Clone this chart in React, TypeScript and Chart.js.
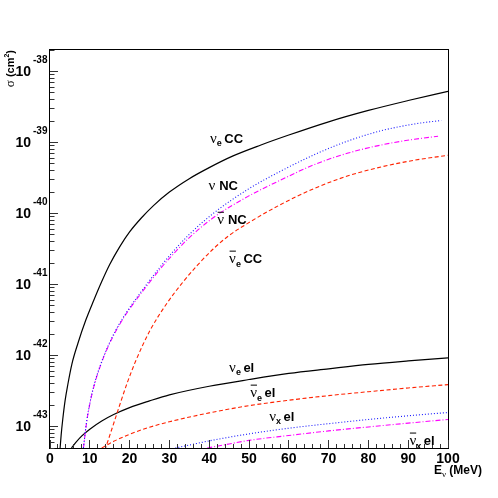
import React, { useEffect, useRef } from "react";
import { Chart, registerables } from "chart.js";

Chart.register(...registerables);

// ---------------- data ----------------
const X_MIN = 0;
const X_MAX = 100;
const Y_MIN = 5e-44;
const Y_MAX = 2e-38;

const X_TICK_LABELS = [0, 10, 20, 30, 40, 50, 60, 70, 80, 90, 100];
const Y_DECADES = [-38, -39, -40, -41, -42, -43];

// nu_e CC (black solid)
const E_NUE_CC = [2.5, 2.8, 3.2, 3.8, 4.5, 5.5, 7, 9, 11, 13, 15, 17.5, 20, 23, 26, 30, 35, 40, 46, 53, 60, 70, 80, 90, 100];
const SIG_NUE_CC = [4.68e-44, 7.6e-44, 1.26e-43, 2.34e-43, 3.98e-43, 7.6e-43, 1.48e-42, 3.16e-42, 6.0e-42, 1.1e-41, 1.91e-41, 3.39e-41, 5.5e-41, 8.7e-41, 1.29e-40, 2.0e-40, 3.09e-40, 4.42e-40, 6.46e-40, 9.2e-40, 1.27e-39, 1.95e-39, 2.82e-39, 3.89e-39, 5.25e-39];

// nu NC (blue dotted)
const E_NU_NC = [8.4, 9.2, 10.05, 11.0, 12.56, 14.5, 16.75, 19.3, 22, 25, 28, 31.5, 35, 41, 49.75, 58.1, 66.5, 74.9, 83.2, 91.6, 98.3];
const SIG_NU_NC = [5.0e-44, 1.175e-43, 2.19e-43, 3.72e-43, 7.08e-43, 1.33e-42, 2.4e-42, 4.12e-42, 6.76e-42, 1.135e-41, 1.86e-41, 3.16e-41, 5.07e-41, 1.0e-40, 2.19e-40, 3.98e-40, 6.76e-40, 1.05e-39, 1.46e-39, 1.82e-39, 2.04e-39];

// anti-nu NC (magenta dash-dot)
const E_NUBAR_NC = [8.4, 9.2, 10.05, 11.0, 12.56, 14.5, 16.75, 19.3, 22, 25, 28, 31.5, 35, 41, 49.75, 58.1, 66.5, 74.9, 83.2, 91.6, 97.5];
const SIG_NUBAR_NC = [5.0e-44, 1.15e-43, 2.14e-43, 3.63e-43, 6.9e-43, 1.3e-42, 2.32e-42, 3.98e-42, 6.46e-42, 1.07e-41, 1.74e-41, 2.88e-41, 4.57e-41, 8.7e-41, 1.74e-40, 2.98e-40, 4.9e-40, 7.08e-40, 9.2e-40, 1.11e-39, 1.22e-39];

// anti-nu_e CC (red dashed)
const E_NUEBAR_CC = [13.8, 15.5, 17.5, 19.3, 21.5, 25.1, 29.3, 33.5, 37, 41, 45, 50.25, 58.1, 66.5, 74.9, 83.2, 91.6, 100];
const SIG_NUEBAR_CC = [4.68e-44, 9.1e-44, 2.0e-43, 3.98e-43, 8.3e-43, 2.24e-42, 5.37e-42, 1.1e-41, 1.86e-41, 3.16e-41, 4.9e-41, 7.6e-41, 1.35e-40, 2.26e-40, 3.39e-40, 4.52e-40, 5.62e-40, 6.6e-40];

// nu_e elastic (black solid)
const E_NUE_EL = [5.4, 6.5, 8, 10, 13, 16, 20, 25, 30, 40, 50, 60, 70, 80, 90, 100];
const SIG_NUE_EL = [5.0e-44, 6.0e-44, 7.4e-44, 9.2e-44, 1.2e-43, 1.48e-43, 1.85e-43, 2.3e-43, 2.8e-43, 3.7e-43, 4.6e-43, 5.6e-43, 6.5e-43, 7.5e-43, 8.4e-43, 9.3e-43];

// anti-nu_e elastic (red dashed)
const E_NUEBAR_EL = [13.0, 16, 20, 25, 30, 40, 50, 60, 70, 80, 90, 100];
const SIG_NUEBAR_EL = [5.0e-44, 6.2e-44, 7.8e-44, 9.8e-44, 1.17e-43, 1.56e-43, 1.97e-43, 2.35e-43, 2.73e-43, 3.1e-43, 3.5e-43, 3.9e-43];

// nu_x elastic (blue dotted)
const E_NUX_EL = [31.5, 35, 40, 50, 60, 70, 80, 90, 100];
const SIG_NUX_EL = [5.0e-44, 5.5e-44, 6.3e-44, 7.9e-44, 9.5e-44, 1.1e-43, 1.26e-43, 1.42e-43, 1.58e-43];

// anti-nu_x elastic (magenta dash-dot)
const E_NUXBAR_EL = [39.5, 45, 50, 60, 70, 80, 90, 100];
const SIG_NUXBAR_EL = [5.0e-44, 5.7e-44, 6.4e-44, 7.5e-44, 8.7e-44, 9.9e-44, 1.12e-43, 1.26e-43];

// curve labels: anchor (left edge, baseline) in data units
const LABEL_E = [40.2, 39.8, 42.0, 45.0, 45.0, 50.3, 55.1, 90.3];
const LABEL_SIG = [9.9e-40, 2.17e-40, 7.05e-41, 2.0e-41, 5.9e-43, 2.6e-43, 1.2e-43, 5.5e-44];
const LABEL_BAR = [false, false, true, true, false, true, false, true];
const LABEL_SUB = ["e", "", "", "e", "e", "e", "x", "x"];
const LABEL_TEXT = ["CC", "NC", "NC", "CC", "el", "el", "el", "el"];

// ---------------- styling ----------------
const SANS = "'Liberation Sans', Arial, Helvetica, sans-serif";
const SERIF = "'Liberation Serif', 'Times New Roman', serif";
const BLACK = "#000000";
const BLUE = "#1a1aff";
const MAGENTA = "#ff00ff";
const RED = "#ff2200";

function pts(xs: number[], ys: number[]) {
  return xs.map((x, i) => ({ x, y: ys[i] }));
}

type Seg = { t: string; f: string; dy?: number; gap?: number; bar?: boolean };

function segWidth(ctx: CanvasRenderingContext2D, segs: Seg[]) {
  let w = 0;
  for (const s of segs) {
    ctx.font = s.f;
    w += (s.gap || 0) + ctx.measureText(s.t).width;
  }
  return w;
}

function drawSegs(ctx: CanvasRenderingContext2D, segs: Seg[], x: number, y: number) {
  let cx = x;
  for (const s of segs) {
    cx += s.gap || 0;
    ctx.font = s.f;
    const w = ctx.measureText(s.t).width;
    ctx.fillText(s.t, cx, y + (s.dy || 0));
    if (s.bar) ctx.fillRect(cx + 0.5, y - 12.5, w - 0.5, 1);
    cx += w;
  }
}

const decorPlugin = {
  id: "decor",
  afterDraw(chart: any) {
    const { ctx, chartArea: a, scales } = chart;
    const xs = scales.x;
    const ys = scales.y;
    ctx.save();

    // frame
    ctx.strokeStyle = "#000";
    ctx.lineWidth = 1;
    ctx.strokeRect(a.left - 0.5, a.top - 0.5, a.right - a.left + 1, a.bottom - a.top + 1);

    // x ticks
    ctx.strokeStyle = "#333";
    ctx.beginPath();
    for (let v = X_MIN; v <= X_MAX + 1e-9; v += 2) {
      const px = Math.floor(xs.getPixelForValue(v)) + 0.5;
      const len = Math.round(v) % 10 === 0 ? 8 : 4;
      ctx.moveTo(px, a.bottom);
      ctx.lineTo(px, a.bottom - len);
    }
    // y ticks (log)
    for (let n = -44; n <= -38; n++) {
      for (let m = 1; m <= 9; m++) {
        const v = m * Math.pow(10, n);
        if (v < Y_MIN * 0.999 || v > Y_MAX * 1.001) continue;
        const py = Math.floor(ys.getPixelForValue(v)) + 0.5;
        const len = m === 1 ? 8 : 4.5;
        ctx.moveTo(a.left, py);
        ctx.lineTo(a.left + len, py);
      }
    }
    ctx.stroke();

    ctx.fillStyle = "#000";
    // x tick labels
    ctx.textBaseline = "middle";
    ctx.textAlign = "center";
    ctx.font = `bold 14px ${SANS}`;
    for (const v of X_TICK_LABELS) {
      ctx.fillText(String(v), xs.getPixelForValue(v), a.bottom + 11);
    }
    // y tick labels: 10^n
    for (const n of Y_DECADES) {
      const py = ys.getPixelForValue(Math.pow(10, n));
      ctx.textAlign = "right";
      ctx.font = `bold 14px ${SANS}`;
      ctx.fillText("10", a.left - 19, py + 0.5);
      ctx.textAlign = "left";
      ctx.font = `bold 10px ${SANS}`;
      ctx.fillText(String(n), a.left - 17, py - 11);
    }

    ctx.textBaseline = "alphabetic";
    ctx.textAlign = "left";

    // y axis title (rotated)
    const ySegs: Seg[] = [
      { t: "\u03C3", f: `13px ${SERIF}` },
      { t: " (cm", f: `bold 11px ${SANS}` },
      { t: "2", f: `bold 7px ${SANS}`, dy: -5 },
      { t: ")", f: `bold 11px ${SANS}` },
    ];
    ctx.save();
    ctx.translate(14, a.top);
    ctx.rotate(-Math.PI / 2);
    drawSegs(ctx, ySegs, -segWidth(ctx, ySegs), 0);
    ctx.restore();

    // x axis title
    const xSegs: Seg[] = [
      { t: "E", f: `bold 12px ${SANS}` },
      { t: "\u03BD", f: `9px ${SERIF}`, dy: 3 },
      { t: " (MeV)", f: `bold 12px ${SANS}` },
    ];
    drawSegs(ctx, xSegs, 482 - segWidth(ctx, xSegs), a.bottom + 26);

    // curve labels
    for (let i = 0; i < LABEL_E.length; i++) {
      const lx = xs.getPixelForValue(LABEL_E[i]);
      const ly = ys.getPixelForValue(LABEL_SIG[i]);
      const segs: Seg[] = [{ t: "\u03BD", f: `15px ${SERIF}`, bar: LABEL_BAR[i] }];
      if (LABEL_SUB[i]) segs.push({ t: LABEL_SUB[i], f: `bold 9px ${SANS}`, dy: 3.5 });
      segs.push({ t: LABEL_TEXT[i], f: `bold 13px ${SANS}`, gap: LABEL_SUB[i] ? 2.5 : 4 });
      drawSegs(ctx, segs, lx, ly);
    }

    ctx.restore();
  },
};

export default function App() {
  const ref = useRef<HTMLCanvasElement>(null);

  useEffect(() => {
    document.body.style.margin = "0";
    const canvas = ref.current;
    if (!canvas) return;

    const ds = (xs: number[], ys: number[], color: string, dash: number[], width: number) => ({
      data: pts(xs, ys),
      borderColor: color,
      borderWidth: width,
      borderDash: dash,
      pointRadius: 0,
      fill: false,
      cubicInterpolationMode: "monotone" as const,
      clip: 0,
    });

    const chart = new Chart(canvas, {
      type: "line",
      data: {
        datasets: [
          ds(E_NUE_CC, SIG_NUE_CC, BLACK, [], 1.2),
          ds(E_NU_NC, SIG_NU_NC, BLUE, [1, 2], 1.1),
          ds(E_NUBAR_NC, SIG_NUBAR_NC, MAGENTA, [5, 2, 1, 2], 1.1),
          ds(E_NUEBAR_CC, SIG_NUEBAR_CC, RED, [4, 2.5], 1.1),
          ds(E_NUE_EL, SIG_NUE_EL, BLACK, [], 1.2),
          ds(E_NUEBAR_EL, SIG_NUEBAR_EL, RED, [4, 2.5], 1.1),
          ds(E_NUX_EL, SIG_NUX_EL, BLUE, [1, 2], 1.1),
          ds(E_NUXBAR_EL, SIG_NUXBAR_EL, MAGENTA, [5, 2, 1, 2], 1.1),
        ] as any,
      },
      options: {
        responsive: false,
        devicePixelRatio: 1,
        animation: false,
        layout: { padding: { left: 50, right: 50, top: 50, bottom: 50 } },
        plugins: { legend: { display: false }, tooltip: { enabled: false } },
        events: [],
        scales: {
          x: { type: "linear", min: X_MIN, max: X_MAX, display: false },
          y: { type: "logarithmic", min: Y_MIN, max: Y_MAX, display: false },
        },
      } as any,
      plugins: [decorPlugin],
    });

    return () => chart.destroy();
  }, []);

  return (
    <canvas
      ref={ref}
      width={498}
      height={498}
      style={{ display: "block", width: 498, height: 498 }}
    />
  );
}
